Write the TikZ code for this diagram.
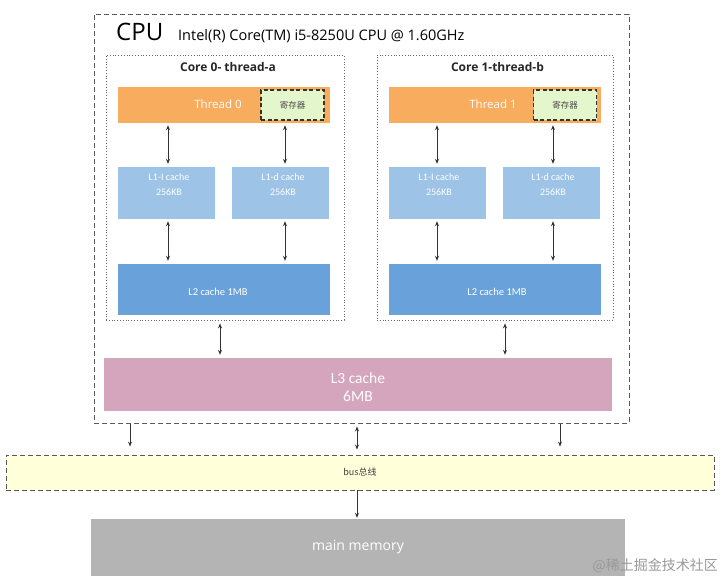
\documentclass[tikz,border=0pt]{standalone}
\usepackage{fontspec}
\setmainfont{Open Sans}
\newfontfamily\cond{Carlito}
\newfontfamily\cjk{Noto Sans CJK SC}
\usetikzlibrary{arrows.meta,calc}
\definecolor{orng}{HTML}{F7AC5E}
\definecolor{lblue}{HTML}{9DC3E6}
\definecolor{mblue}{HTML}{69A2DA}
\definecolor{pink}{HTML}{D5A5BD}
\definecolor{regg}{HTML}{E4F6CB}
\definecolor{busy}{HTML}{FFFFDA}
\definecolor{memg}{HTML}{B4B4B4}
\definecolor{arr}{HTML}{333333}
\tikzset{
  blk/.style={fill=#1, draw=none, inner sep=0pt, text=white, align=center},
  regbox/.style={fill=regg, draw=arr, dashed, line width=1.1pt, dash pattern=on 4pt off 2.5pt, inner sep=0pt, minimum width=63pt, minimum height=30pt, font=\cjk\fontsize{8.5}{10}\selectfont, text=black!70},
  corebox/.style={draw=black!60, dotted, line width=0.8pt, inner sep=0pt},
  dbl/.style={{Stealth[length=5pt,width=4pt]}-{Stealth[length=5pt,width=4pt]}, draw=arr, line width=0.8pt},
  sgl/.style={-{Stealth[length=5pt,width=4pt]}, draw=arr, line width=0.8pt},
  l1font/.style={font=\cond\fontsize{10}{12}\selectfont, text=white, inner sep=0pt, align=center},
  coretitle/.style={font=\bfseries\fontsize{12}{14}\selectfont, text=black!85, inner sep=0pt},
}
\begin{document}
\begin{tikzpicture}[x=1pt,y=-1pt]
\useasboundingbox (0,0) rectangle (721,584);
% CPU box
\node[draw=black!65, dashed, line width=0.9pt, dash pattern=on 5pt off 3pt, minimum width=535pt, minimum height=409pt, inner sep=0pt] (cpu) at (361.5,218.5) {};
\node[anchor=base west, inner sep=0pt, font=\fontsize{24}{27}\selectfont] (cputxt) at (116,40) {CPU};
\node[anchor=base west, inner sep=0pt, font=\fontsize{14.5}{16}\selectfont] (model) at (178,40) {Intel(R) Core(TM) i5-8250U CPU @ 1.60GHz};
% Core 0
\node[corebox, minimum width=238pt, minimum height=265pt] (core0) at (225,187.5) {};
\node[coretitle] (c0t) at (228,67) {Core 0- thread-a};
\node[blk=orng, minimum width=212pt, minimum height=36pt] (th0) at (224,105) {};
\node[text=white, font=\fontsize{11.5}{13}\selectfont, inner sep=0pt] (th0t) at (218,104) {Thread 0};
\node[regbox] (reg0) at (292.5,105) {寄存器};
\node[blk=lblue, minimum width=97pt, minimum height=52pt] (l1i0) at (166.5,193) {};
\node[l1font] (l1i0t) at (169,185) {L1-I cache\\[3pt]256KB};
\node[blk=lblue, minimum width=97pt, minimum height=52pt] (l1d0) at (280.5,193) {};
\node[l1font] (l1d0t) at (283,185) {L1-d cache\\[3pt]256KB};
\node[blk=mblue, minimum width=212pt, minimum height=51pt] (l20) at (224,289.5) {};
\node[l1font, font=\cond\fontsize{10.5}{12}\selectfont] (l20t) at (218,292) {L2 cache 1MB};
% Core 1
\node[corebox, minimum width=236pt, minimum height=265pt] (core1) at (495,187.5) {};
\node[coretitle] (c1t) at (497.5,67) {Core 1-thread-b};
\node[blk=orng, minimum width=212pt, minimum height=36pt] (th1) at (495,105) {};
\node[text=white, font=\fontsize{11.5}{13}\selectfont, inner sep=0pt] (th1t) at (493,104) {Thread 1};
\node[regbox] (reg1) at (565,105) {寄存器};
\node[blk=lblue, minimum width=97pt, minimum height=52pt] (l1i1) at (437.5,193) {};
\node[l1font] (l1i1t) at (439,185) {L1-I cache\\[3pt]256KB};
\node[blk=lblue, minimum width=97pt, minimum height=52pt] (l1d1) at (551.5,193) {};
\node[l1font] (l1d1t) at (553,185) {L1-d cache\\[3pt]256KB};
\node[blk=mblue, minimum width=212pt, minimum height=51pt] (l21) at (495,289.5) {};
\node[l1font, font=\cond\fontsize{10.5}{12}\selectfont] (l21t) at (497,292) {L2 cache 1MB};
% L3
\node[blk=pink, minimum width=508pt, minimum height=53pt] (l3) at (358,384.5) {};
\node[l1font, font=\cond\fontsize{15.5}{18}\selectfont] (l3t) at (358,387) {L3 cache\\6MB};
% bus
\node[fill=busy, draw=black!65, dashed, line width=0.9pt, dash pattern=on 5pt off 3pt, minimum width=708pt, minimum height=35pt, inner sep=0pt, font=\cjk\fontsize{9}{11}\selectfont, text=black!75] (bus) at (360,472.5) {bus总线};
% memory
\node[blk=memg, minimum width=534pt, minimum height=57pt, font=\fontsize{14}{16}\selectfont] (mem) at (358,547.5) {main memory};
% watermark
\node[anchor=east, inner sep=0pt, font=\cjk\fontsize{14}{16}\selectfont, text=black!40] (wm) at (718,566) {@稀土掘金技术社区};
% arrows in cores
\foreach \t/\a/\b/\c in {th0/l1i0/l20/168, th0/l1d0/l20/285, th1/l1i1/l21/437, th1/l1d1/l21/553}{
  \draw[dbl] (\c,0 |- \t.south) ++(0,2) -- ($(\c,0 |- \a.north)+(0,-3)$);
  \draw[dbl] (\c,0 |- \a.south) ++(0,2) -- ($(\c,0 |- \b.north)+(0,-3)$);
}
% cores to L3
\draw[dbl] ($(220,0 |- core0.south)+(0,3)$) -- ($(220,0 |- l3.north)+(0,-3)$);
\draw[dbl] ($(505,0 |- core1.south)+(0,3)$) -- ($(505,0 |- l3.north)+(0,-3)$);
% CPU to bus
\draw[sgl] ($(130,0 |- cpu.south)+(0,1)$) -- ($(130,0 |- bus.north)+(0,-8)$);
\draw[dbl] ($(357,0 |- cpu.south)+(0,3)$) -- ($(357,0 |- bus.north)+(0,-5)$);
\draw[sgl] ($(560,0 |- cpu.south)+(0,1)$) -- ($(560,0 |- bus.north)+(0,-8)$);
% bus to memory
\draw[sgl] (bus.south -| 357,0) -- ($(mem.north -| 357,0)+(0,-1)$);
\end{tikzpicture}
\end{document}
